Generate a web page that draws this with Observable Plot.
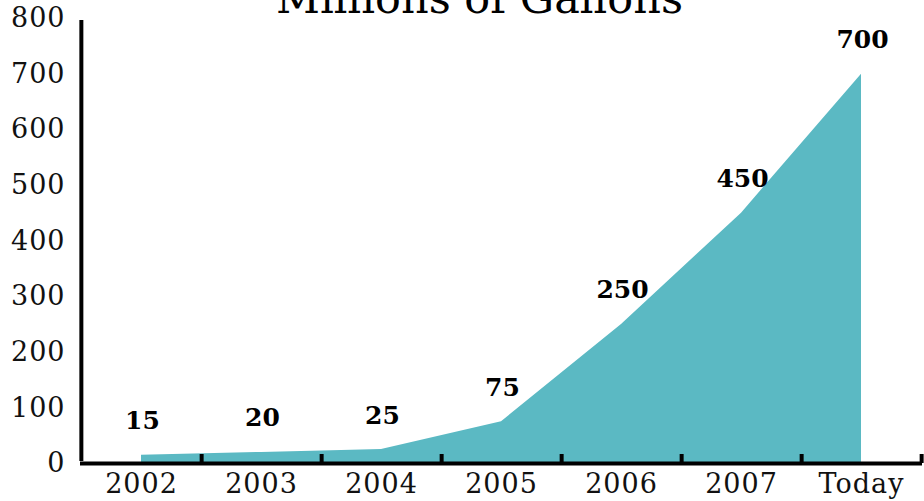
<!DOCTYPE html>
<html>
<head>
<meta charset="utf-8">
<script src="https://cdn.jsdelivr.net/npm/d3@7"></script>
<script src="https://cdn.jsdelivr.net/npm/@observablehq/plot@0.6"></script>
<style>
  html, body { margin: 0; padding: 0; background: #fff; }
  #chart svg { display: block; }
  #chart svg g[aria-label="y-axis tick label"] text { letter-spacing: 1px; }
  #chart svg g[aria-label="x-axis tick label"] text { letter-spacing: 1px; }
</style>
</head>
<body>
<div id="chart"></div>
<script>
const categories = ["2002", "2003", "2004", "2005", "2006", "2007", "Today"];
const values = [15, 20, 25, 75, 250, 450, 700];
const yTicks = [0, 100, 200, 300, 400, 500, 600, 700, 800];
const title = "Millions of Gallons";

const data = categories.map((c, i) => ({cat: c, value: values[i]}));

const W = 924, H = 501;
const mLeft = 80, mRight = 2, mTop = 18, mBottom = 38;
const step = (W - mLeft - mRight) / categories.length;
const font = "'DejaVu Serif', 'Liberation Serif', serif";

const plot = Plot.plot({
  width: W,
  height: H,
  marginLeft: mLeft,
  marginRight: mRight,
  marginTop: mTop,
  marginBottom: mBottom,
  style: {fontFamily: font, background: "#fff", overflow: "visible"},
  x: {type: "point", domain: categories, padding: 0.5, label: null},
  y: {domain: [0, 800], label: null},
  marks: [
    Plot.areaY(data, {x: "cat", y: "value", fill: "#5bb9c3"}),
    // x axis baseline
    Plot.ruleY([0], {stroke: "#000", strokeWidth: 4}),
    // y axis line
    Plot.ruleX([categories[0]], {y1: 0, y2: 800, dx: -step / 2, stroke: "#000", strokeWidth: 4, insetBottom: -2, insetTop: -2}),
    // inward y ticks
    Plot.ruleY(yTicks, {y: d => d, x1: categories[0], x2: categories[0], dx: -step / 2, insetRight: -20, stroke: "#000", strokeWidth: 4}),
    // inward x ticks at band boundaries
    Plot.ruleX(categories, {x: d => d, y1: 0, y2: 0, dx: step / 2, insetTop: -9, stroke: "#000", strokeWidth: 4}),
    Plot.axisY({ticks: yTicks, tickSize: 0, tickPadding: 15, fontSize: 27, fill: "#111", label: null}),
    Plot.axisX({tickSize: 0, tickPadding: 10, fontSize: 27, fill: "#111", label: null, dx: 0, lineAnchor: "top"}),
    Plot.text(data, {x: "cat", y: "value", text: d => String(d.value), dy: -34, dx: 1, fontSize: 25, fontWeight: "bold", fill: "#000"}),
    Plot.text([title], {frameAnchor: "top", text: d => d, dx: -22, dy: -6, lineAnchor: "bottom", fontSize: 43, fill: "#000"})
  ]
});

document.getElementById("chart").appendChild(plot);
</script>
</body>
</html>
